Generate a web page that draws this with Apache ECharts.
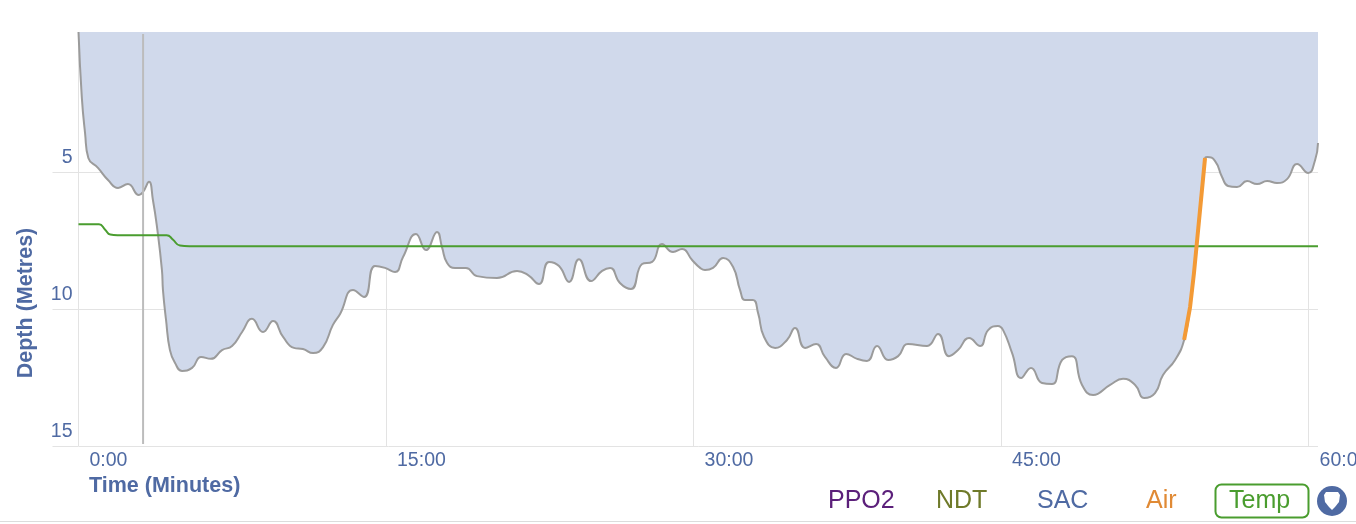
<!DOCTYPE html>
<html>
<head>
<meta charset="utf-8">
<style>
  html, body { margin: 0; padding: 0; background: #fff; overflow: hidden; }
  #chart { width: 1356px; height: 524px; }
</style>
<script src="https://cdn.jsdelivr.net/npm/echarts@6/dist/echarts.min.js"></script>
</head>
<body>
<div id="chart"></div>
<script>
// dive profile, time in minutes and depth in metres
const profileTime = [0, 0.16, 0.32, 0.48, 0.95, 1.44, 1.93, 2.41, 2.95, 3.15, 3.44, 3.63, 3.83, 4.07, 4.12, 4.27, 4.46, 4.71, 5.05, 5.54, 5.98, 6.46, 7.0, 7.49, 7.98, 8.46, 9.0, 9.49, 9.98, 10.51, 10.95, 11.44, 11.93, 12.41, 12.76, 13.39, 13.93, 14.46, 14.95, 15.44, 15.83, 16.46, 16.95, 17.49, 17.73, 17.98, 18.37, 18.9, 19.44, 20.41, 21.39, 21.93, 22.46, 22.95, 23.44, 23.93, 24.41, 25.0, 25.54, 25.93, 26.41, 26.95, 27.49, 27.98, 28.46, 29.0, 29.44, 29.93, 30.32, 30.56, 30.95, 31.44, 31.93, 32.27, 32.51, 32.9, 33.15, 33.44, 33.98, 34.56, 34.95, 35.44, 35.98, 36.41, 36.95, 37.44, 37.98, 38.46, 38.95, 39.49, 39.98, 40.46, 41.39, 41.93, 42.46, 42.9, 43.44, 43.98, 44.37, 44.85, 45.1, 45.54, 45.98, 46.46, 47.0, 47.49, 47.98, 48.46, 48.95, 49.49, 50.32, 50.95, 51.54, 51.98, 52.51, 52.9, 53.49, 53.93, 54.22, 54.41, 54.95, 55.05, 55.44, 55.78, 56.07, 56.51, 57.0, 57.49, 57.98, 58.46, 58.95, 59.44, 59.98, 60.32, 60.46];
const profileDepth = [-0.11, 2.26, 3.58, 4.49, 4.85, 5.29, 5.58, 5.44, 5.84, 5.73, 5.36, 6.02, 7.01, 8.58, 9.31, 10.4, 11.5, 11.97, 12.26, 12.15, 11.75, 11.82, 11.5, 11.35, 10.84, 10.36, 10.84, 10.44, 11.02, 11.42, 11.46, 11.61, 11.39, 10.58, 10.18, 9.31, 9.56, 8.43, 8.5, 8.65, 8.1, 7.26, 7.85, 7.19, 7.74, 8.32, 8.5, 8.5, 8.8, 8.87, 8.61, 8.76, 9.09, 8.28, 8.43, 9.01, 8.18, 8.98, 8.61, 8.5, 9.05, 9.27, 8.36, 8.28, 7.63, 7.92, 7.81, 8.21, 8.5, 8.58, 8.5, 8.14, 8.47, 9.31, 9.67, 9.67, 10.15, 11.02, 11.42, 11.13, 10.69, 11.42, 11.28, 11.75, 12.15, 11.64, 11.82, 11.9, 11.35, 11.86, 11.72, 11.28, 11.35, 10.91, 11.72, 11.5, 11.06, 11.35, 10.77, 10.62, 10.77, 11.61, 12.52, 12.15, 12.7, 12.74, 11.86, 11.72, 12.77, 13.14, 12.77, 12.55, 12.77, 13.25, 13.07, 12.41, 11.86, 11.13, 9.93, 8.69, 4.49, 4.45, 4.6, 5.18, 5.51, 5.55, 5.33, 5.44, 5.33, 5.4, 5.26, 4.71, 5.04, 4.56, 3.94];

// ascent stretch highlighted as Air
const airTime = [53.93, 54.22, 54.41, 54.95];
const airDepth = [11.13, 9.93, 8.69, 4.49];

const tempTime = [0, 1.0, 1.3, 1.55, 1.9, 4.3, 4.6, 4.95, 5.4, 60.46];
const tempValue = [27, 27, 26.5, 26.05, 26, 26, 25.6, 25.05, 25, 25];

const cursorTime = [3.15, 3.15];
const cursorDepth = [-0.04, 14.93];

const timeTicks = [0, 15, 30, 45, 60];
const depthTicks = [5, 10, 15];
const legendNames = ['PPO2', 'NDT', 'SAC', 'Air', 'Temp'];

const zip = (a, b) => a.map((v, i) => [v, b[i]]);

const font = '"Liberation Sans", Arial, sans-serif';
const blue = '#4f6aa3';
const gridColor = '#e3e3e3';

const chart = echarts.init(document.getElementById('chart'), null, { renderer: 'canvas' });

function legendText(i, x, color) {
  return {
    type: 'text',
    x: x,
    y: 501,
    style: { text: legendNames[i], fill: color, font: '25px ' + font, textVerticalAlign: 'middle' }
  };
}

const option = {
  animation: false,
  grid: { left: 78.5, right: 38, top: 32, height: 414, outerBoundsMode: 'none' },
  xAxis: {
    type: 'value',
    min: 0,
    max: 60.46,
    axisLine: { show: false },
    axisTick: { length: 21, lineStyle: { color: gridColor }, customValues: timeTicks },
    splitLine: { show: true, lineStyle: { color: gridColor } },
    axisLabel: {
      customValues: timeTicks,
      color: blue, fontFamily: font, fontSize: 19.5, margin: 5,
      align: 'left', padding: [0, 0, 0, 11],
      formatter: v => v + ':00'
    }
  },
  yAxis: [{
    type: 'value',
    inverse: true,
    min: -0.11,
    max: 15,
    name: 'Depth (Metres)',
    nameLocation: 'middle',
    nameGap: 41,
    nameMoveOverlap: false,
    nameTextStyle: {
      color: blue, fontFamily: font, fontWeight: 'bold', fontSize: 21.5,
      padding: [0, 128, 0, 0]
    },
    axisLine: { show: false },
    axisTick: { length: 26, lineStyle: { color: gridColor }, customValues: depthTicks },
    splitLine: { show: true, lineStyle: { color: gridColor } },
    axisLabel: {
      customValues: depthTicks,
      color: blue, fontFamily: font, fontSize: 19.5, margin: 6,
      verticalAlign: 'bottom', padding: [0, 0, 4, 0]
    }
  }, {
    // temperature has no visible scale in the picture
    type: 'value',
    show: false,
    min: 6.8,
    max: 44.5,
    splitLine: { show: false }
  }],
  series: [{
    name: 'Depth',
    type: 'line',
    smooth: 0.5,
    symbol: 'none',
    data: zip(profileTime, profileDepth),
    lineStyle: { color: '#9b9b9b', width: 2 },
    areaStyle: { color: '#d0d9eb', opacity: 1, origin: 'start' },
    z: 2
  }, {
    name: 'Cursor',
    type: 'line',
    symbol: 'none',
    data: zip(cursorTime, cursorDepth),
    lineStyle: { color: '#bcbcbc', width: 2 },
    z: 3
  }, {
    name: 'Temp',
    type: 'line',
    yAxisIndex: 1,
    smooth: 0.5,
    symbol: 'none',
    data: zip(tempTime, tempValue),
    lineStyle: { color: '#4a9d2f', width: 2 },
    z: 4
  }, {
    name: 'Air',
    type: 'line',
    symbol: 'none',
    data: zip(airTime, airDepth),
    lineStyle: { color: '#f39a36', width: 4 },
    z: 5
  }],
  graphic: [
    {
      type: 'text',
      x: 89,
      y: 486,
      style: { text: 'Time (Minutes)', fill: blue, font: 'bold 21.5px ' + font, textVerticalAlign: 'middle' }
    },
    legendText(0, 828, '#5b1f7a'),
    legendText(1, 936, '#6f7a2a'),
    legendText(2, 1037, blue),
    legendText(3, 1146, '#e08a35'),
    legendText(4, 1229, '#4a9d2f'),
    {
      type: 'rect',
      shape: { x: 1215.5, y: 484.5, width: 93, height: 33, r: 6 },
      style: { fill: 'none', stroke: '#4a9d2f', lineWidth: 2 }
    },
    {
      type: 'circle',
      shape: { cx: 1332, cy: 501, r: 15 },
      style: { fill: blue }
    },
    {
      type: 'polygon',
      shape: { points: [[1326, 492], [1338, 492], [1340, 495], [1339, 502], [1335, 507], [1332, 510], [1329, 507], [1325, 502], [1324, 495]] },
      style: { fill: '#fff' }
    },
    {
      type: 'rect',
      shape: { x: 0, y: 521, width: 1356, height: 1 },
      style: { fill: '#dcdcdc' }
    }
  ]
};

chart.setOption(option);
</script>
</body>
</html>
